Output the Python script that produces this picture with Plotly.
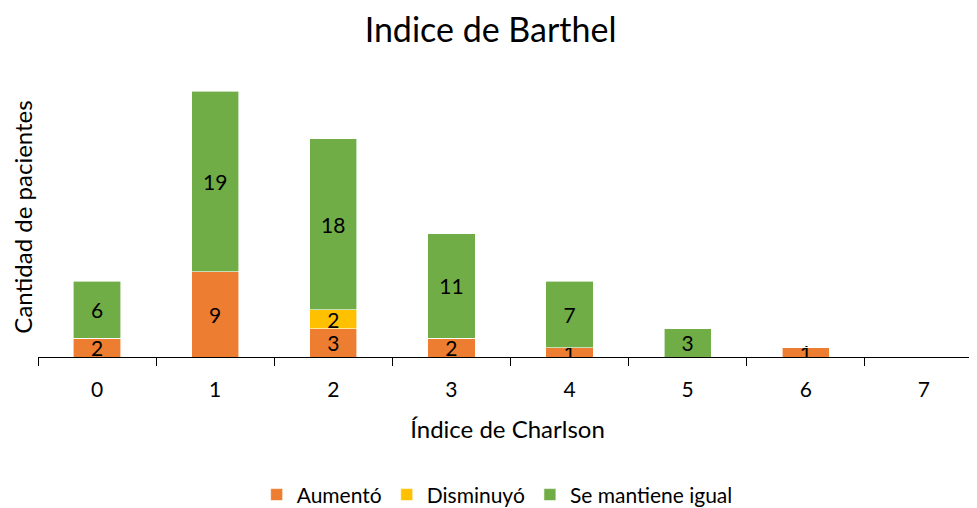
import plotly.graph_objects as go

categories = ["0", "1", "2", "3", "4", "5", "6", "7"]
aumento = [2, 9, 3, 2, 1, 0, 1, 0]
disminuyo = [0, 0, 2, 0, 0, 0, 0, 0]
mantiene = [6, 19, 18, 11, 7, 3, 0, 0]

series = [
    ("Aumentó", aumento, "#ED7D31"),
    ("Disminuyó", disminuyo, "#FFC000"),
    ("Se mantiene igual", mantiene, "#70AD47"),
]

FONT = "Lato"
fig = go.Figure()
for name, vals, col in series:
    fig.add_trace(go.Bar(
        name=name, x=categories, y=vals,
        marker=dict(color=col, line=dict(color="white", width=0.6)),
        text=[str(v) if v else "" for v in vals],
        textposition="inside", insidetextanchor="middle", textangle=0,
        textfont=dict(family=FONT, size=21, color="black"),
        width=0.4,
    ))

fig.update_layout(
    barmode="stack",
    width=969, height=500,
    margin=dict(l=30, r=0, t=64, b=151, autoexpand=False),
    paper_bgcolor="white", plot_bgcolor="white",
    font=dict(family=FONT, color="black"),
    title=dict(text="Indice de Barthel", x=0.498, xanchor="center", xref="container",
               y=0.955, yref="container", yanchor="middle",
               font=dict(family=FONT, size=34, color="black")),
    uniformtext=dict(minsize=21, mode="show"),
    legend=dict(orientation="h", x=0.489, xanchor="center", y=-0.484, yanchor="middle",
                font=dict(family=FONT, size=21, color="black"), traceorder="normal",
                itemwidth=30),
    showlegend=True,
    annotations=[dict(text="Cantidad de pacientes", textangle=-90, xref="paper", yref="paper",
                      x=-0.0175, y=0.491, xanchor="center", yanchor="middle", showarrow=False,
                      font=dict(family=FONT, size=24, color="black"))],
)
fig.update_xaxes(
    type="category", tickson="boundaries", ticks="outside", ticklen=8, automargin=False,
    range=[-0.5, 7.45],
    tickcolor="black", tickwidth=1.3, showline=True, linecolor="black", linewidth=1.3,
    tickfont=dict(family=FONT, size=21, color="black"), ticklabelstandoff=14,
    title=dict(text="Índice de Charlson", font=dict(family=FONT, size=24, color="black"), standoff=20),
    showgrid=False, zeroline=False,
)
fig.update_yaxes(
    range=[0, 30], showticklabels=False, showgrid=False, zeroline=False, showline=False,
    ticks="", automargin=False,
)

fig.write_html("out.html")
